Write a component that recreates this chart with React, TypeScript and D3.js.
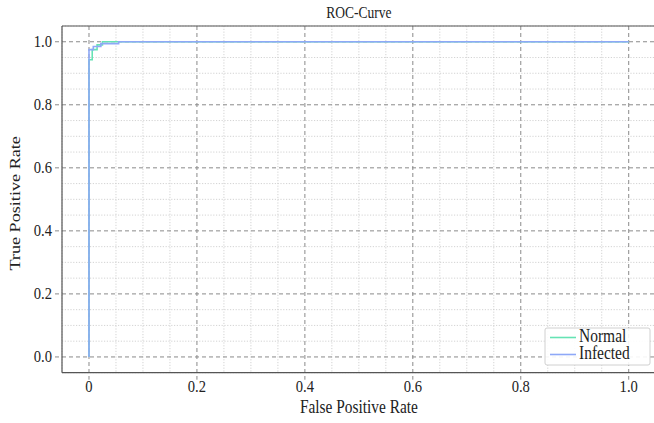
import React from "react";
import * as d3 from "d3";

// ROC points for each class (false positive rate, true positive rate)
const normalFpr = [0, 0, 0.006, 0.006, 0.015, 0.015, 0.025, 0.025, 1.0];
const normalTpr = [0, 0.943, 0.943, 0.975, 0.975, 0.99, 0.99, 1.0, 1.0];
const infectedFpr = [0, 0, 0.008, 0.008, 0.022, 0.022, 0.055, 0.055, 1.0];
const infectedTpr = [0, 0.975, 0.975, 0.985, 0.985, 0.994, 0.994, 1.0, 1.0];

const seriesNames = ["Normal", "Infected"];
const seriesColors = ["#66e3b4", "#8ea8f7"];

const xMajorTicks = [0, 0.2, 0.4, 0.6, 0.8, 1.0];
const xTickLabels = ["0", "0.2", "0.4", "0.6", "0.8", "1.0"];
const yMajorTicks = [0, 0.2, 0.4, 0.6, 0.8, 1.0];
const yTickLabels = ["0.0", "0.2", "0.4", "0.6", "0.8", "1.0"];

const W = 654;
const H = 423;
const left = 62;
const top = 26;
const right = 655.7;
const bottom = 372.7;

const font = "Liberation Serif";
// glyphs are drawn slightly taller than wide
const stretch = 1.18;

type LabelProps = {
  x: number;
  y: number;
  size: number;
  anchor?: "start" | "middle" | "end";
  rotate?: number;
  children: React.ReactNode;
};

function Label({ x, y, size, anchor = "start", rotate = 0, children }: LabelProps) {
  return (
    <text
      transform={`translate(${x},${y}) scale(1,${stretch}) rotate(${rotate})`}
      textAnchor={anchor}
      fontSize={size}
      style={{ fontFamily: font }}
      fill="#222"
    >
      {children}
    </text>
  );
}

export default function App() {
  const x = d3.scaleLinear().domain([-0.05, 1.05]).range([left, right]);
  const y = d3.scaleLinear().domain([-0.05, 1.05]).range([bottom, top]);

  const minor = d3.range(-0.05, 1.0501, 0.05).map((v) => Math.round(v * 100) / 100);
  const isMajor = (v: number) => Math.abs(v * 5 - Math.round(v * 5)) < 1e-6;
  const minorTicks = minor.filter((v) => !isMajor(v));

  const line = d3
    .line<[number, number]>()
    .x((d) => x(d[0]))
    .y((d) => y(d[1]));

  const normalPts = normalFpr.map((f, i) => [f, normalTpr[i]] as [number, number]);
  const infectedPts = infectedFpr.map((f, i) => [f, infectedTpr[i]] as [number, number]);

  return (
    <svg width={W} height={H} style={{ position: "absolute", left: 0, top: 0, background: "#fff" }}>
      <defs>
        <clipPath id="plot">
          <rect x={left} y={top} width={right - left} height={bottom - top} />
        </clipPath>
      </defs>

      {/* minor grid */}
      <g stroke="#c8c8c8" strokeWidth={0.8} strokeDasharray="1.2,1.6">
        {minorTicks.map((v) => (
          <line key={"mx" + v} x1={x(v)} x2={x(v)} y1={top} y2={bottom} />
        ))}
        {minorTicks.map((v) => (
          <line key={"my" + v} x1={left} x2={right} y1={y(v)} y2={y(v)} />
        ))}
      </g>

      {/* major grid */}
      <g stroke="#8a8a8a" strokeWidth={1} strokeDasharray="4,3">
        {xMajorTicks.map((v) => (
          <line key={"gx" + v} x1={x(v)} x2={x(v)} y1={top} y2={bottom + 7} />
        ))}
        {yMajorTicks.map((v) => (
          <line key={"gy" + v} x1={left - 7} x2={right} y1={y(v)} y2={y(v)} />
        ))}
      </g>

      {/* axes frame */}
      <g stroke="#555" strokeWidth={1.2} fill="none">
        <line x1={left} x2={left} y1={top} y2={bottom} />
        <line x1={left} x2={right} y1={bottom} y2={bottom} />
        <line x1={left} x2={right} y1={top} y2={top} />
      </g>

      {/* curves */}
      <g clipPath="url(#plot)" fill="none" strokeWidth={1.6}>
        <path d={line(normalPts) || ""} stroke={seriesColors[0]} />
        <path d={line(infectedPts) || ""} stroke={seriesColors[1]} />
      </g>

      {/* tick labels */}
      {xMajorTicks.map((v, i) => (
        <Label key={"tx" + v} x={x(v)} y={392} size={14.6} anchor="middle">
          {xTickLabels[i]}
        </Label>
      ))}
      {yMajorTicks.map((v, i) => (
        <Label key={"ty" + v} x={52} y={y(v) + 5.5} size={14.6} anchor="end">
          {yTickLabels[i]}
        </Label>
      ))}

      {/* title and axis labels */}
      <Label x={(left + right) / 2} y={18} size={13.5} anchor="middle">
        ROC-Curve
      </Label>
      <Label x={(left + right) / 2} y={413} size={15.4} anchor="middle">
        False Positive Rate
      </Label>
      <Label x={20} y={(top + bottom) / 2 + 4} size={15.4} anchor="middle" rotate={-90}>
        True Positive Rate
      </Label>

      {/* legend */}
      <g>
        <rect x={545} y={328} width={105} height={37} rx={2} fill="#fff" fillOpacity={0.9} stroke="#d0d0d0" />
        {seriesNames.map((name, i) => (
          <g key={name}>
            <line
              x1={550}
              x2={576}
              y1={337.5 + i * 17}
              y2={337.5 + i * 17}
              stroke={seriesColors[i]}
              strokeWidth={1.6}
            />
            <Label x={579} y={342 + i * 17} size={15.5}>
              {name}
            </Label>
          </g>
        ))}
      </g>
    </svg>
  );
}
